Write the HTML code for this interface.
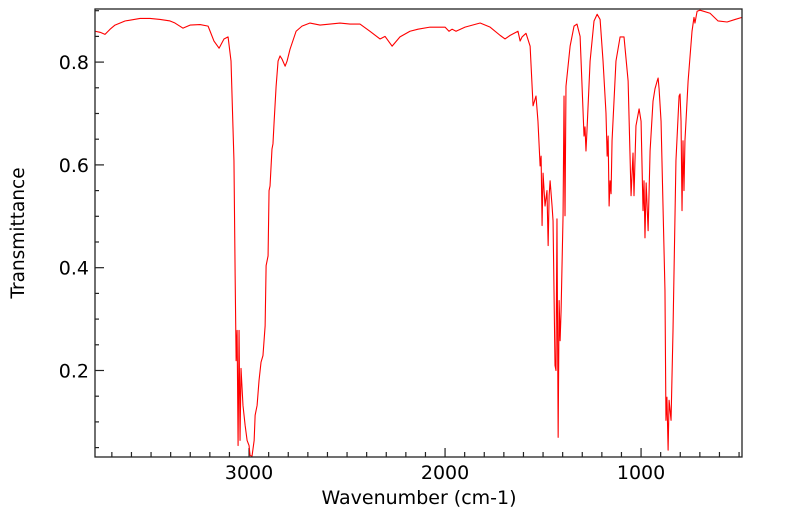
<!DOCTYPE html>
<html><head><meta charset="utf-8"><style>
html,body{margin:0;padding:0;background:#fff;}
svg{display:block;font-family:"DejaVu Sans","Liberation Sans",sans-serif;}
</style></head><body>
<svg id="chart" width="799" height="516" viewBox="0 0 799 516" xmlns="http://www.w3.org/2000/svg">
<g id="axes"></g>
<path id="spectrum" fill="none" stroke="#ff0000" stroke-width="1.1" stroke-linejoin="round"/>
<rect x="95" y="9" width="647" height="448" fill="none" stroke="#222" stroke-width="1.3"/>
<text x="419" y="504" font-size="19" text-anchor="middle">Wavenumber (cm-1)</text>
<text transform="translate(24,233) rotate(-90)" font-size="18.5" text-anchor="middle">Transmittance</text>
</svg>
<script>
const wavenumbers=[3786,3760,3735,3709,3684,3633,3556,3505,3454,3403,3378,3337,3301,3250,3209,3179,3153,3128,3107,3092,3077,3071,3066,3061,3056,3051,3046,3041,3031,3020,3010,3000,2995,2985,2974,2969,2959,2949,2939,2929,2918,2913,2903,2898,2893,2883,2878,2872,2862,2852,2842,2832,2816,2806,2791,2760,2730,2689,2638,2587,2536,2485,2434,2383,2332,2306,2270,2230,2179,2138,2077,2000,1980,1964,1944,1898,1821,1770,1719,1694,1668,1628,1617,1607,1587,1566,1551,1536,1526,1515,1510,1505,1500,1490,1480,1474,1469,1464,1454,1449,1439,1434,1429,1423,1418,1413,1408,1398,1393,1388,1383,1362,1342,1327,1311,1291,1286,1281,1276,1260,1240,1224,1209,1194,1179,1173,1168,1163,1158,1153,1148,1128,1107,1087,1066,1051,1041,1036,1026,1010,1000,990,985,980,974,964,954,939,929,918,913,908,898,878,873,868,862,857,847,837,822,806,801,796,791,786,781,776,760,740,730,725,714,699,648,607,561,520,485];
const transmittance=[0.860,0.858,0.854,0.864,0.872,0.880,0.885,0.885,0.883,0.880,0.876,0.866,0.872,0.873,0.870,0.841,0.827,0.845,0.849,0.802,0.608,0.384,0.219,0.278,0.054,0.278,0.064,0.204,0.132,0.093,0.064,0.054,0.035,0.033,0.064,0.113,0.132,0.181,0.216,0.229,0.287,0.404,0.423,0.550,0.559,0.631,0.641,0.685,0.753,0.802,0.812,0.806,0.792,0.802,0.825,0.860,0.870,0.876,0.872,0.874,0.876,0.874,0.874,0.860,0.845,0.850,0.831,0.849,0.860,0.864,0.868,0.868,0.860,0.864,0.860,0.868,0.876,0.868,0.852,0.845,0.852,0.860,0.841,0.849,0.856,0.831,0.715,0.734,0.685,0.598,0.617,0.482,0.584,0.520,0.550,0.443,0.540,0.569,0.520,0.491,0.210,0.200,0.495,0.070,0.336,0.258,0.316,0.501,0.734,0.501,0.753,0.831,0.870,0.874,0.850,0.656,0.674,0.627,0.666,0.802,0.880,0.893,0.883,0.802,0.701,0.617,0.656,0.520,0.569,0.544,0.647,0.802,0.849,0.849,0.763,0.540,0.623,0.540,0.676,0.709,0.685,0.511,0.569,0.458,0.565,0.472,0.627,0.724,0.748,0.763,0.769,0.748,0.685,0.355,0.103,0.148,0.045,0.142,0.103,0.278,0.608,0.734,0.738,0.685,0.511,0.647,0.550,0.647,0.763,0.860,0.887,0.876,0.899,0.901,0.895,0.880,0.878,0.883,0.887];
const xTickLabels=[3000,2000,1000];
const yTickLabels=[0.2,0.4,0.6,0.8];

const X0=95,X1=742,Y0=9,Y1=457;
const wnMax=3786,wnMin=485,tMax=0.9033,tMin=0.0317;
function xScale(w){return X0+(wnMax-w)/(wnMax-wnMin)*(X1-X0);}
function yScale(t){return Y0+(tMax-t)/(tMax-tMin)*(Y1-Y0);}
const NS="http://www.w3.org/2000/svg";
const axes=document.getElementById('axes');
function mk(tag,attrs){const e=document.createElementNS(NS,tag);for(const k in attrs)e.setAttribute(k,attrs[k]);return e;}

let d='';
for(let i=0;i<wavenumbers.length;i++){d+=(i?'L':'M')+xScale(wavenumbers[i]).toFixed(2)+','+yScale(transmittance[i]).toFixed(2);}
document.getElementById('spectrum').setAttribute('d',d);

for(let w=3700;w>=500;w-=100){
  const major=xTickLabels.includes(w);
  const x=xScale(w);
  const t=mk('line',{x1:x,x2:x,y1:Y1,y2:Y1-(major?9:5),stroke:'#222','stroke-width':1.2});
  
  
  axes.appendChild(t);
  if(major){
    const l=mk('text',{x:x,y:Y1+22,'font-size':19,'text-anchor':'middle'});
    l.textContent=w;
    
    
    axes.appendChild(l);
  }
}
for(let k=1;k<=18;k++){
  const v=k*0.05;
  if(v<tMin||v>tMax)continue;
  const major=yTickLabels.some(m=>Math.abs(m-v)<1e-6);
  const y=yScale(v);
  const t=mk('line',{x1:X0,x2:X0+(major?9:4),y1:y,y2:y,stroke:'#222','stroke-width':1.2});
  
  
  axes.appendChild(t);
  if(major){
    const l=mk('text',{x:X0-6,y:y+7,'font-size':19,'text-anchor':'end'});
    l.textContent=v.toFixed(1);
    
    
    axes.appendChild(l);
  }
}
</script>
</body></html>
